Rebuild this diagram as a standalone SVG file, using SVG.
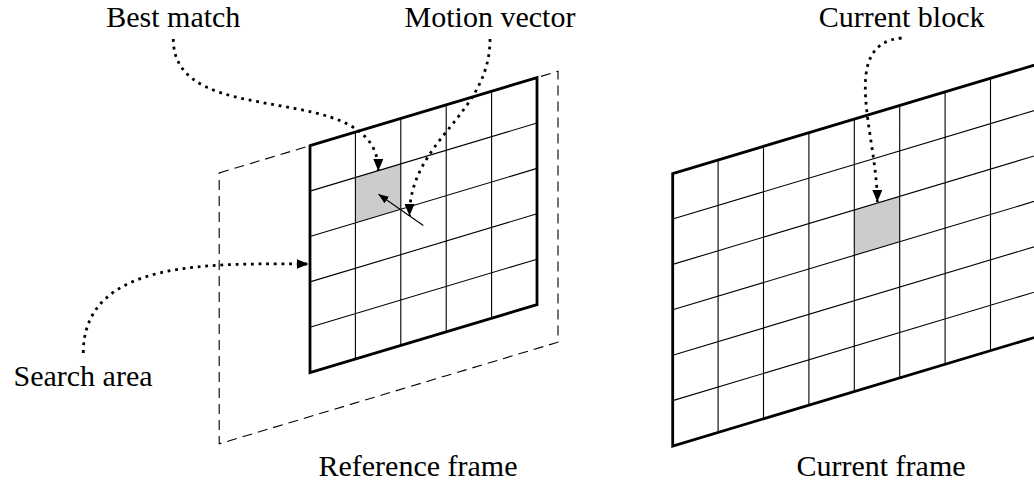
<svg xmlns="http://www.w3.org/2000/svg" width="1034" height="482" viewBox="0 0 1034 482">
  <style>
    .lbl { font-family: "Liberation Serif", "Times New Roman", serif; font-size: 30px; fill: #000; text-anchor: middle; }
    .grid { stroke: #000; stroke-width: 1.1; fill: none; }
    .border { stroke: #000; stroke-width: 2.8; fill: none; stroke-linejoin: miter; }
    .dashed { stroke: #000; stroke-width: 1.1; fill: none; stroke-dasharray: 10 6; }
    .shade { fill: #cccccc; stroke: none; }
    .dotted { stroke: #000; stroke-width: 2.8; fill: none; stroke-dasharray: 2.8 4.8; marker-end: url(#bigArrow); }
    .vec { stroke: #000; stroke-width: 1.1; fill: none; marker-end: url(#smallArrow); }
  </style>
  <defs>
    <marker id="bigArrow" markerUnits="userSpaceOnUse" viewBox="0 0 12 10" refX="12" refY="5" markerWidth="12" markerHeight="10" orient="auto">
      <path d="M0,0 L12,5 L0,10 Z" fill="#000" stroke="none"/>
    </marker>
    <marker id="smallArrow" markerUnits="userSpaceOnUse" viewBox="0 0 10 8" refX="10" refY="4" markerWidth="10" markerHeight="8" orient="auto">
      <path d="M0,0 L10,4 L0,8 Z" fill="#000" stroke="none"/>
    </marker>
  </defs>

  <g id="search-area">
    <polygon class="dashed" points="219.2,172.9 558,71.3 558,342.2 219.2,443.8"/>
  </g>

  <g id="best-match-block">
    <polygon class="shade" points="355.4,222.88 355.4,177.48 400.8,163.86 400.8,209.26"/>
  </g>

  <g id="reference-frame">
    <path class="grid" d="M355.4,359.08 V132.08 M400.8,345.46 V118.46 M446.2,331.84 V104.84 M491.6,318.22 V91.22
      M310,327.3 L537,259.2 M310,281.9 L537,213.8 M310,236.5 L537,168.4 M310,191.1 L537,123"/>
    <polygon class="border" points="310,145.7 537,77.6 537,304.6 310,372.7"/>
    <text class="lbl" x="418" y="476">Reference frame</text>
  </g>

  <g id="current-block">
    <polygon class="shade" points="854.3,255.32 854.3,209.92 899.7,196.3 899.7,241.7"/>
  </g>

  <g id="current-frame">
    <path class="grid" d="M718.1,432.38 V159.98 M763.5,418.76 V146.36 M808.9,405.14 V132.74 M854.3,391.52 V119.12
      M899.7,377.9 V105.5 M945.1,364.28 V91.88 M990.5,350.66 V78.26 M1035.9,337.04 V64.64
      M672.7,400.6 L1081.3,278.02 M672.7,355.2 L1081.3,232.62 M672.7,309.8 L1081.3,187.22
      M672.7,264.4 L1081.3,141.82 M672.7,219 L1081.3,96.42"/>
    <polygon class="border" points="672.7,173.6 1081.3,51.02 1081.3,323.42 672.7,446"/>
    <text class="lbl" x="881" y="476">Current frame</text>
  </g>

  <g id="label-best-match">
    <text class="lbl" x="173.3" y="27">Best match</text>
  </g>
  <g id="label-motion-vector">
    <text class="lbl" x="490" y="27">Motion vector</text>
  </g>
  <g id="label-current-block">
    <text class="lbl" x="901.6" y="27">Current block</text>
  </g>
  <g id="label-search-area">
    <text class="lbl" x="83" y="386">Search area</text>
  </g>

  <g id="connectors">
    <path class="dotted" d="M173.3,39 C173.3,134.7 378.3,75.3 378.3,171"/>
    <path class="dotted" d="M490,39 C490,115.5 409.5,139.5 409.5,216"/>
    <path class="dotted" d="M83.3,353 C83.3,257.6 214.6,264 308.5,264"/>
    <path class="dotted" d="M901.6,38 C838,44 877.3,135.2 877.3,202"/>
    <path class="vec" d="M423.3,225.5 L378.5,194.3"/>
  </g>
</svg>
